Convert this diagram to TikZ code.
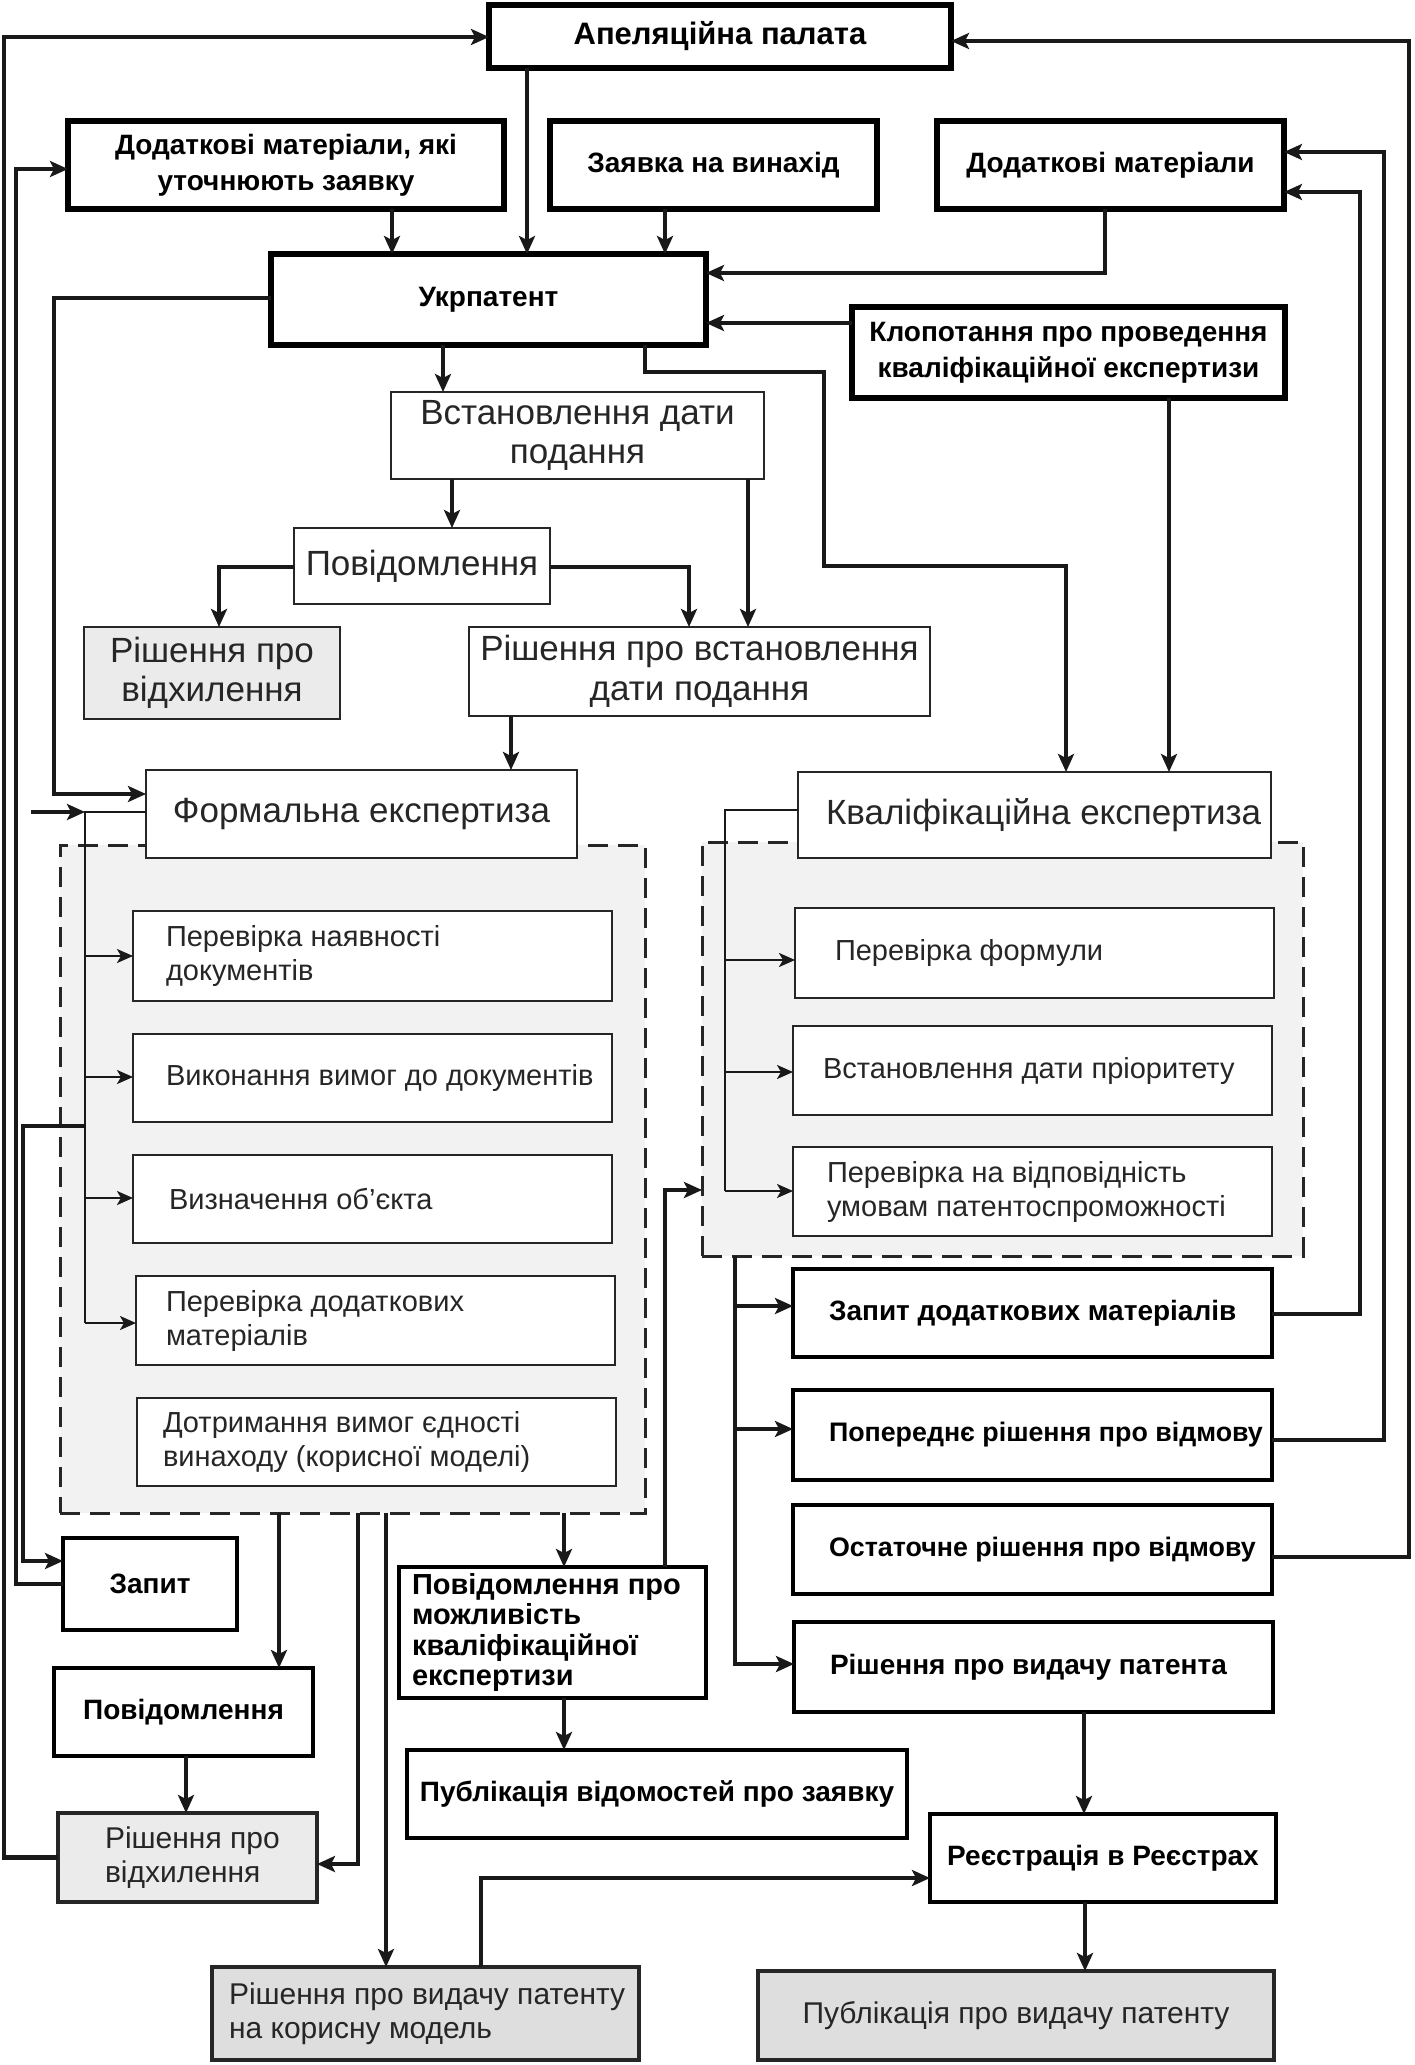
\documentclass[tikz,border=0pt]{standalone}
\usepackage{fontspec}
\setmainfont{Liberation Sans}
\usetikzlibrary{arrows.meta}

\newcommand\fntApel{\fontsize{15.5}{18}\selectfont\bfseries}
\newcommand\fntBold{\fontsize{14}{17.8}\selectfont\bfseries}
\newcommand\fntBoldS{\fontsize{13.4}{17}\selectfont\bfseries}
\newcommand\fntPm{\fontsize{14.5}{15.1}\selectfont\bfseries}
\newcommand\fntReg{\fontsize{17.5}{19.7}\selectfont}
\newcommand\fntSub{\fontsize{14.5}{17}\selectfont}
\newcommand\fntGray{\fontsize{15}{17}\selectfont}

\newcommand\BX[7]{%
  \pgfmathsetmacro\BXw{(#5-#3)*0.5}%
  \pgfmathsetmacro\BXh{(#6-#4)*0.5}%
  \pgfmathsetmacro\BXx{(#3+#5)/2}%
  \pgfmathsetmacro\BXy{(#4+#6)/2}%
  \node[#1, align=center, minimum width=\BXw pt, minimum height=\BXh pt] (#2) at (\BXx,\BXy) {#7};}
\newcommand\BL[8]{%
  \BX{#1}{#2}{#3}{#4}{#5}{#6}{}%
  \pgfmathsetmacro\BXi{#8*0.5}%
  \node[#1, draw=none, fill=none, anchor=west, align=left, inner sep=0pt] (#2t) at ([xshift=\BXi pt]#2.west) {#7};}

\tikzset{
  base/.style={rectangle, inner sep=0pt, outer sep=0pt, fill=white, text=black},
  thickbox/.style={base, line width=3pt, draw=black, font=\fntBold},
  medbox/.style={base, line width=2pt, draw=black, font=\fntBold},
  thinbox/.style={base, line width=1.2pt, draw=black!85, font=\fntReg, text=black!85},
  subbox/.style={base, line width=1.3pt, draw=black!85, font=\fntSub, text=black!85},
  graybox/.style={base, line width=2pt, draw=black!85, fill=black!13, font=\fntGray, text=black!85},
  region/.style={base, draw=black!85, line width=1.5pt, dash pattern=on 10pt off 5pt, fill=black!5},
  con/.style={line width=2.2pt, draw=black!90},
  arr/.style={con, -{Stealth[length=9pt,width=8pt,inset=2pt]}},
  tcon/.style={line width=1.2pt, draw=black!90},
  tarr/.style={tcon, -{Stealth[length=8pt,width=7pt,inset=2pt]}},
}

\begin{document}
\begin{tikzpicture}[x=0.5pt,y=-0.5pt]
\fill[white] (0,0) rectangle (1414,2065);
\useasboundingbox (0,0) rectangle (1414,2065);

% regions
\BX{region}{dashL}{60}{845}{645}{1513}{}
\BX{region}{dashR}{702}{842}{1303}{1256}{}

% top boxes
\BX{thickbox,font=\fntApel}{apel}{489}{5}{951}{68}{Апеляційна палата}
\BX{thickbox}{dodl}{68}{121}{504}{209}{Додаткові матеріали, які\\уточнюють заявку}
\BX{thickbox}{zayav}{550}{121}{877}{209}{Заявка на винахід}
\BX{thickbox}{dodr}{937}{121}{1284}{209}{Додаткові матеріали}
\BX{thickbox}{ukr}{271}{254}{706}{345}{Укрпатент}
\BX{thickbox}{klop}{852}{307}{1285}{398}{Клопотання про проведення\\кваліфікаційної експертизи}
\BX{thinbox}{vst}{391}{392}{764}{479}{Встановлення дати\\подання}
\BX{thinbox}{povt}{294}{528}{550}{604}{Повідомлення}
\BX{thinbox,fill=black!8}{vidh1}{84}{627}{340}{719}{Рішення про\\відхилення}
\BX{thinbox}{rvst}{469}{627}{930}{716}{Рішення про встановлення\\дати подання}
\BX{thinbox}{form}{146}{770}{577}{858}{Формальна експертиза}
\BL{thinbox}{kval}{798}{772}{1271}{858}{Кваліфікаційна експертиза}{28}

% left sub-boxes
\BL{subbox}{sa}{133}{911}{612}{1001}{Перевірка наявності\\документів}{33}
\BL{subbox}{sb}{133}{1034}{612}{1122}{Виконання вимог до документів}{33}
\BL{subbox}{sc}{133}{1155}{612}{1243}{Визначення об’єкта}{36}
\BL{subbox}{sd}{136}{1276}{615}{1365}{Перевірка додаткових\\матеріалів}{30}
\BL{subbox}{se}{137}{1398}{616}{1486}{Дотримання вимог єдності\\винаходу (корисної моделі)}{26}

% right sub-boxes
\BL{subbox}{ra}{795}{908}{1274}{998}{Перевірка формули}{40}
\BL{subbox}{rb}{793}{1026}{1272}{1115}{Встановлення дати пріоритету}{30}
\BL{subbox}{rc}{793}{1147}{1272}{1236}{Перевірка на відповідність\\умовам патентоспроможності}{34}

% right results
\BL{medbox}{zapdod}{793}{1269}{1272}{1357}{Запит додаткових матеріалів}{36}
\BL{medbox,font=\fntBoldS}{poper}{793}{1390}{1272}{1480}{Попереднє рішення про відмову}{36}
\BL{medbox,font=\fntBoldS}{ostat}{793}{1505}{1272}{1594}{Остаточне рішення про відмову}{36}
\BL{medbox}{rvyd}{794}{1622}{1273}{1712}{Рішення про видачу патента}{36}

% bottom boxes
\BX{medbox}{zapyt}{63}{1538}{237}{1630}{Запит}
\BX{medbox}{povb}{54}{1668}{313}{1756}{Повідомлення}
\BL{graybox,fill=black!8}{vidh2}{58}{1813}{317}{1902}{Рішення про\\відхилення}{47}
\BL{medbox,font=\fntPm}{povmozh}{399}{1567}{706}{1698}{Повідомлення про\\можливість\\кваліфікаційної\\експертизи}{13}
\BX{medbox}{publvid}{407}{1750}{907}{1838}{Публікація відомостей про заявку}
\BX{medbox}{reestr}{930}{1814}{1276}{1902}{Реєстрація в Реєстрах}
\BL{graybox}{rkm}{212}{1967}{639}{2060}{Рішення про видачу патенту\\на корисну модель}{17}
\BX{graybox}{publpat}{758}{1971}{1274}{2060}{Публікація про видачу патенту}

% connectors: top
\draw[arr] (apel.south -| 527,0) -- (ukr.north -| 527,0);
\draw[arr] (dodl.south -| 392,0) -- (ukr.north -| 392,0);
\draw[arr] (zayav.south -| 665,0) -- (ukr.north -| 665,0);
\draw[arr] (dodr.south -| 1105,0) |- (ukr.east |- 0,273);
\draw[arr] (klop.west |- 0,323) -- (ukr.east |- 0,323);
\draw[arr] (ukr.west |- 0,298) -| (54,794) -- (form.west |- 0,794);
\draw[arr] (ukr.south -| 443,0) -- (vst.north -| 443,0);
\draw[arr] (ukr.south -| 645,0) |- (824,372) |- (1066,566) -- (kval.north -| 1066,0);
\draw[arr] (klop.south -| 1169,0) -- (kval.north -| 1169,0);
\draw[arr] (vst.south -| 452,0) -- (povt.north -| 452,0);
\draw[arr] (vst.south -| 748,0) -- (rvst.north -| 748,0);
\draw[arr] (povt.west |- 0,567) -| (vidh1.north -| 219,0);
\draw[arr] (povt.east |- 0,567) -| (rvst.north -| 689,0);
\draw[arr] (rvst.south -| 511,0) -- (form.north -| 511,0);

% outer loops
\draw[arr] (vidh2.west) -| (4,37) -- (apel.west |- 0,37);
\draw[arr] (ostat.east |- 0,1557) -| (1409,41) -- (apel.east |- 0,41);
\draw[arr] (zapyt.west |- 0,1584) -| (16,169) -- (dodl.west |- 0,169);
\draw[arr] (85,1126) -| (23,1561) -- (zapyt.west |- 0,1561);

% left bus
\coordinate (stub) at (31,812);
\draw[tcon] (form.west |- 0,812) -- (85,812) -- (85,1323);
\draw[arr] (stub) -- (85,812);
\draw[tarr] (85,956) -- (sa.west |- 0,956);
\draw[tarr] (85,1077) -- (sb.west |- 0,1077);
\draw[tarr] (85,1198) -- (sc.west |- 0,1198);
\draw[tarr] (85,1323) -- (sd.west |- 0,1323);

% right bus
\draw[tcon] (kval.west |- 0,810) -| (725,1191);
\draw[tarr] (725,960) -- (ra.west |- 0,960);
\draw[tarr] (725,1072) -- (rb.west |- 0,1072);
\draw[tarr] (725,1191) -- (rc.west |- 0,1191);

% lower right bus
\draw[arr] (dashR.south -| 735,0) |- (rvyd.west |- 0,1664);
\draw[arr] (735,1306) -- (zapdod.west |- 0,1306);
\draw[arr] (735,1429) -- (poper.west |- 0,1429);
\draw[arr] (povmozh.north -| 665,0) |- (dashR.west |- 0,1190);

% bottom
\draw[arr] (dashL.south -| 279,0) -- (povb.north -| 279,0);
\draw[arr] (dashL.south -| 358,0) |- (vidh2.east |- 0,1864);
\draw[arr] (dashL.south -| 386,0) -- (rkm.north -| 386,0);
\draw[arr] (dashL.south -| 564,0) -- (povmozh.north -| 564,0);
\draw[arr] (povb.south -| 186,0) -- (vidh2.north -| 186,0);
\draw[arr] (povmozh.south -| 564,0) -- (publvid.north -| 564,0);
\draw[arr] (rkm.north -| 481,0) |- (reestr.west |- 0,1878);
\draw[arr] (rvyd.south -| 1084,0) -- (reestr.north -| 1084,0);
\draw[arr] (reestr.south -| 1085,0) -- (publpat.north -| 1085,0);
\draw[arr] (zapdod.east |- 0,1314) -| (1360,192) -- (dodr.east |- 0,192);
\draw[arr] (poper.east |- 0,1440) -| (1384,152) -- (dodr.east |- 0,152);
\end{tikzpicture}
\end{document}
